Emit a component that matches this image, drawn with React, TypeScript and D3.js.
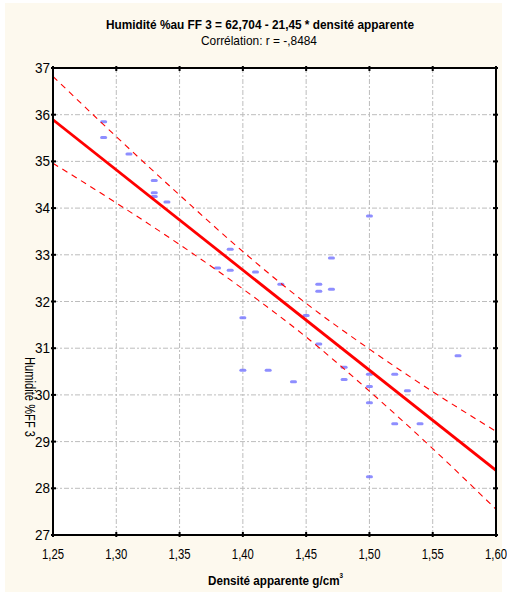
import React from 'react';
import * as d3 from 'd3';

// ---- data ----
const density = [1.29, 1.29, 1.31, 1.33, 1.33, 1.33, 1.34, 1.39, 1.38, 1.39, 1.41, 1.43, 1.47, 1.46, 1.46, 1.47, 1.40, 1.45, 1.46, 1.40, 1.42, 1.44, 1.48, 1.48, 1.57, 1.50, 1.52, 1.50, 1.53, 1.50, 1.52, 1.54, 1.50, 1.50];
const humidity = [35.85, 35.51, 35.16, 34.59, 34.33, 34.25, 34.13, 33.12, 32.72, 32.67, 32.63, 32.37, 32.93, 32.37, 32.22, 32.26, 31.65, 31.70, 31.09, 30.53, 30.53, 30.28, 30.59, 30.33, 30.84, 30.44, 30.44, 30.18, 30.09, 29.83, 29.38, 29.38, 28.25, 33.83];

const xTickValues = [1.25, 1.30, 1.35, 1.40, 1.45, 1.50, 1.55, 1.60];
const yTickValues = [27, 28, 29, 30, 31, 32, 33, 34, 35, 36, 37];

const bandX = [1.25, 1.30, 1.35, 1.40, 1.45, 1.50, 1.55, 1.60];
const bandUpper = [36.82, 35.53, 34.28, 33.07, 31.96, 30.98, 30.07, 29.22];
const bandLower = [34.96, 34.11, 33.22, 32.27, 31.24, 30.08, 28.85, 27.55];

const intercept = 62.704;
const slope = -21.45;

const titleText = 'Humidité %au FF 3 = 62,704 - 21,45  * densité apparente';
const subtitleText = 'Corrélation: r = -,8484';
const xLabelText = 'Densité apparente g/cm';
const xLabelSup = '3';
const yLabelText = 'Humidité %FF 3';

const FONT = "'Liberation Sans Narrow', 'Arial Narrow', 'Liberation Sans', Arial, sans-serif";

export default function App() {
  const W = 507;
  const H = 596;
  const m = { left: 53, right: 496, top: 68, bottom: 535 };

  const x = d3.scaleLinear().domain([1.25, 1.60]).range([m.left, m.right]);
  const y = d3.scaleLinear().domain([27, 37]).range([m.bottom, m.top]);
  const fmt = (v: number) => d3.format('.2f')(v).replace('.', ',');

  const curve = d3
    .line<[number, number]>()
    .x((d) => x(d[0]))
    .y((d) => y(d[1]))
    .curve(d3.curveMonotoneX);

  const upperPts: [number, number][] = bandX.map((v, i) => [v, bandUpper[i]]);
  const lowerPts: [number, number][] = bandX.map((v, i) => [v, bandLower[i]]);
  const fitPts: [number, number][] = [1.25, 1.60].map((v) => [v, intercept + slope * v]);

  return (
    <svg
      width={W}
      height={H}
      style={{ position: 'absolute', left: 0, top: 0, display: 'block' }}
      fontFamily={FONT}
    >
      <rect x={0} y={0} width={W} height={H} fill="#ffffff" />
      <rect x={5} y={3} width={497} height={589} fill="#fdf9ee" />
      <defs>
        <clipPath id="plotClip">
          <rect x={m.left} y={m.top} width={m.right - m.left} height={m.bottom - m.top} />
        </clipPath>
      </defs>

      {/* plot area */}
      <rect x={m.left} y={m.top} width={m.right - m.left} height={m.bottom - m.top} fill="#ffffff" />

      {/* grid */}
      {xTickValues.slice(1, -1).map((v) => (
        <line key={'gx' + v} x1={x(v)} x2={x(v)} y1={m.top} y2={m.bottom} stroke="#bdbdbd" strokeWidth={1} strokeDasharray="5,2,2,2" />
      ))}
      {yTickValues.slice(1, -1).map((v) => (
        <line key={'gy' + v} x1={m.left} x2={m.right} y1={y(v)} y2={y(v)} stroke="#bdbdbd" strokeWidth={1} strokeDasharray="5,2,2,2" />
      ))}

      {/* points */}
      {density.map((d, i) => (
        <rect
          key={'p' + i}
          x={x(d) - 3.5}
          y={y(humidity[i]) - 1.5}
          width={7}
          height={3}
          rx={1.5}
          fill="#7272ff"
          opacity={0.8}
        />
      ))}

      <g clipPath="url(#plotClip)">
        <path d={curve(upperPts) || ''} fill="none" stroke="#ff0000" strokeWidth={1.1} strokeDasharray="6,5" />
        <path d={curve(lowerPts) || ''} fill="none" stroke="#ff0000" strokeWidth={1.1} strokeDasharray="6,5" />
        <path d={curve(fitPts) || ''} fill="none" stroke="#ff0000" strokeWidth={2.8} />
      </g>

      {/* border */}
      <rect x={m.left} y={m.top} width={m.right - m.left} height={m.bottom - m.top} fill="none" stroke="#000" strokeWidth={2} />

      {/* ticks */}
      {xTickValues.map((v) => (
        <g key={'tx' + v}>
          <line x1={x(v)} x2={x(v)} y1={m.bottom - 3} y2={m.bottom + 2} stroke="#000" strokeWidth={2} />
          <line x1={x(v)} x2={x(v)} y1={m.top - 2} y2={m.top + 3} stroke="#000" strokeWidth={2} />
          <text
            x={x(v)}
            y={559}
            fontSize={14}
            textAnchor="middle"
            textLength={22}
            lengthAdjust="spacingAndGlyphs"
            fill="#000"
          >
            {fmt(v)}
          </text>
        </g>
      ))}
      {yTickValues.map((v) => (
        <g key={'ty' + v}>
          <line x1={m.left - 2} x2={m.left + 3} y1={y(v)} y2={y(v)} stroke="#000" strokeWidth={2} />
          <line x1={m.right - 3} x2={m.right + 2} y1={y(v)} y2={y(v)} stroke="#000" strokeWidth={2} />
          <text
            x={50}
            y={y(v) + 5}
            fontSize={14}
            textAnchor="end"
            textLength={15}
            lengthAdjust="spacingAndGlyphs"
            fill="#000"
          >
            {v}
          </text>
        </g>
      ))}

      {/* titles */}
      <text x={260} y={29} fontSize={13} fontWeight="bold" textAnchor="middle" textLength={308} lengthAdjust="spacingAndGlyphs" fill="#000">
        {titleText}
      </text>
      <text x={259} y={45} fontSize={13} textAnchor="middle" textLength={116} lengthAdjust="spacingAndGlyphs" fill="#000">
        {subtitleText}
      </text>
      <text x={208} y={585} fontSize={13} fontWeight="bold" textLength={135} lengthAdjust="spacingAndGlyphs" fill="#000">
        {xLabelText}
        <tspan fontSize={7} dy={-7}>{xLabelSup}</tspan>
      </text>
      <g transform="translate(30,397) rotate(90)">
        <text x={0} y={0} dy="0.35em" fontSize={14} textAnchor="middle" textLength={80} lengthAdjust="spacingAndGlyphs" fill="#000">
          {yLabelText}
        </text>
      </g>
    </svg>
  );
}
